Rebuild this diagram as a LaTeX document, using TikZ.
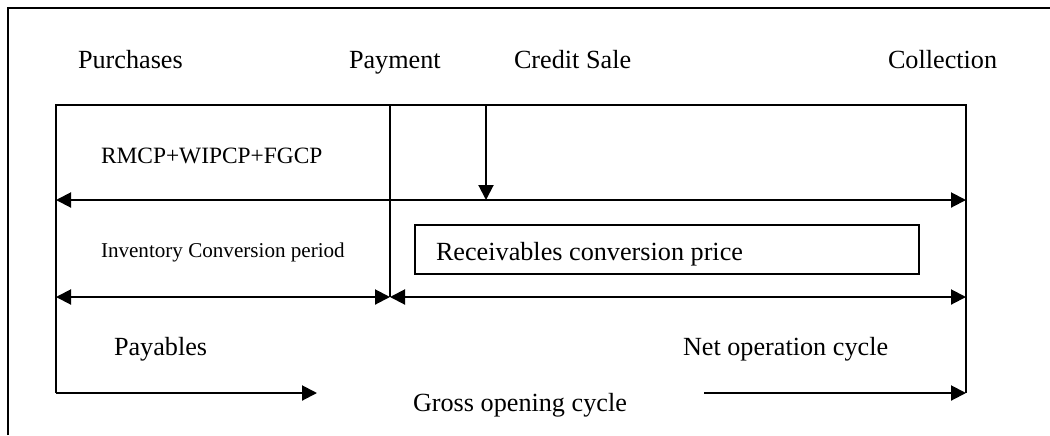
\documentclass[tikz,border=0pt]{standalone}
\usepackage{fontspec}
\setmainfont{Liberation Serif}
\usetikzlibrary{arrows.meta,positioning}

\begin{document}
\begin{tikzpicture}[x=0.5pt,y=-0.5pt,line width=1pt,
  lbl/.style={anchor=base west,inner sep=0pt,font=\fontsize{13.1}{15}\selectfont},
  span/.style={{Triangle[length=7.5pt,width=7.5pt]}-{Triangle[length=7.5pt,width=7.5pt]}},
  fwd/.style={-{Triangle[length=7.5pt,width=7.5pt]}}]
  \useasboundingbox (0,0) rectangle (1050,435);
  % outer frame (open to the right and below)
  \draw (8,435) -- (8,8) -- (1050,8);
  % events along the top
  \node[lbl] (purch) at (77,68) {Purchases};
  \node[lbl] (pay) at (348,68) {Payment};
  \node[lbl] (sale) at (513,68) {Credit Sale};
  \node[lbl] (coll) at (887,68) {Collection};
  % corner points of the cycle
  \coordinate (nw) at (56,105);
  \coordinate (ne) at (966,105);
  \coordinate (sw) at (56,393);
  \coordinate (se) at (966,393);
  \coordinate (paytop) at (390,105);
  \coordinate (paymid) at (390,297);
  \coordinate (saletop) at (486,105);
  \coordinate (salemid) at (486,200);
  \coordinate (midw) at (56,200);
  \coordinate (mide) at (966,200);
  \coordinate (loww) at (56,297);
  \coordinate (lowe) at (966,297);
  \coordinate (grossa) at (317,393);
  \coordinate (grossb) at (704,393);
  % frame of the cycle
  \draw (sw) -- (nw) -- (ne) -- (se);
  \draw (paytop) -- (paymid);
  \draw[fwd] (saletop) -- (salemid);
  % periods
  \draw[span] (midw) -- (mide);
  \draw[span] (loww) -- (paymid);
  \draw[span] (paymid) -- (lowe);
  \draw[fwd] (sw) -- (grossa);
  \draw[fwd] (grossb) -- (se);
  \node[lbl,font=\fontsize{11.7}{14}\selectfont] (inv) at (100,163) {RMCP+WIPCP+FGCP};
  \node[lbl,font=\fontsize{10.55}{13}\selectfont] (icp) at (100,257) {Inventory Conversion period};
  \node[draw,anchor=north west,minimum width=252pt,minimum height=24.5pt,inner sep=0pt] (rcpbox) at (414,224) {};
  \node[lbl] (rcp) at (435,260) {Receivables conversion price};
  \node[lbl] (payb) at (113,355) {Payables};
  \node[lbl] (noc) at (682,355) {Net operation cycle};
  \node[lbl] (goc) at (412,411) {Gross opening cycle};
\end{tikzpicture}
\end{document}
